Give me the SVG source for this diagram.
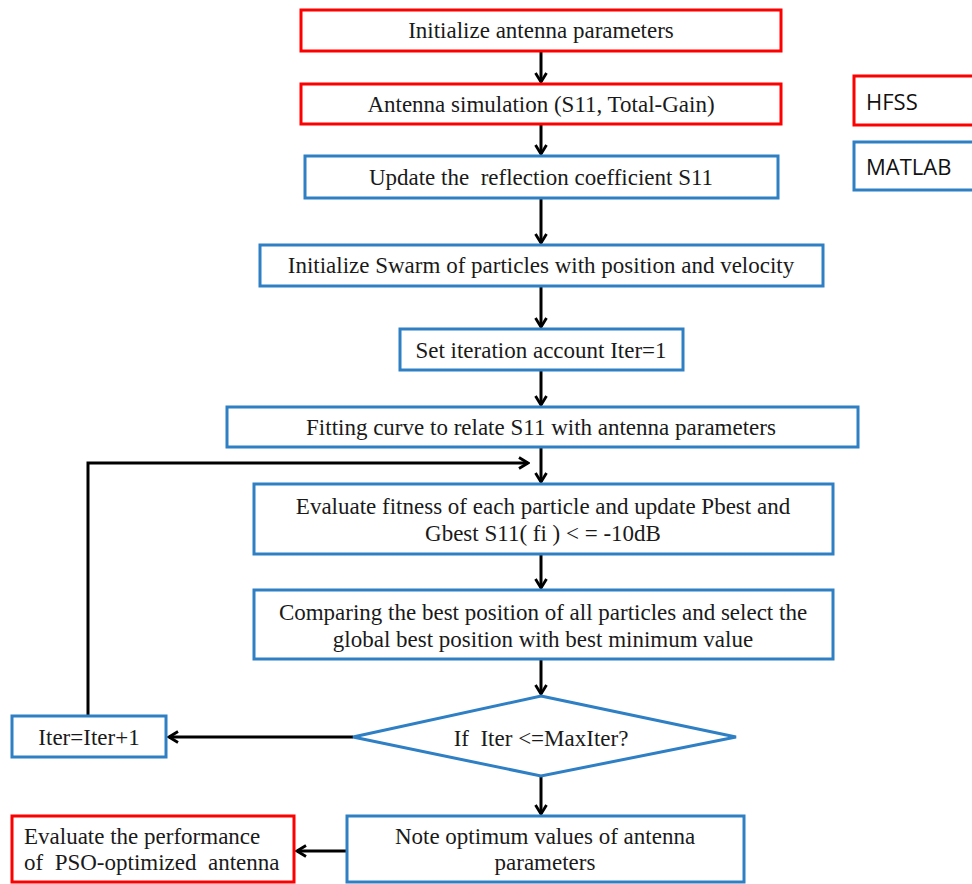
<svg xmlns="http://www.w3.org/2000/svg" width="972" height="884" viewBox="0 0 972 884">
<style>
.r{fill:#fff;stroke:#ff0000;stroke-width:3}
.b{fill:#fff;stroke:#2e7fc4;stroke-width:3}
.t{font-family:"Liberation Serif","DejaVu Serif",serif;font-size:23px;fill:#1a1a1a;text-anchor:middle;dominant-baseline:central}
.s{font-family:"Open Sans","Liberation Sans",sans-serif;font-size:22px;fill:#111;dominant-baseline:central}
.c{fill:none;stroke:#000;stroke-width:3}
</style>
<defs>
<marker id="a" viewBox="0 0 14 14" refX="12" refY="7" markerWidth="14" markerHeight="14" markerUnits="userSpaceOnUse" orient="auto">
<path d="M3,1.5 L12,7 L3,12.5" fill="none" stroke="#000" stroke-width="2.8"/>
</marker>
</defs>
<rect width="972" height="884" fill="#fff"/>
<g id="connectors">
<line class="c" x1="541" y1="51" x2="541" y2="82" marker-end="url(#a)"/>
<line class="c" x1="541" y1="124" x2="541" y2="154" marker-end="url(#a)"/>
<line class="c" x1="541" y1="198" x2="541" y2="243" marker-end="url(#a)"/>
<line class="c" x1="541" y1="286" x2="541" y2="327" marker-end="url(#a)"/>
<line class="c" x1="541" y1="370" x2="541" y2="405" marker-end="url(#a)"/>
<line class="c" x1="541" y1="447" x2="541" y2="482" marker-end="url(#a)"/>
<line class="c" x1="541" y1="554" x2="541" y2="588" marker-end="url(#a)"/>
<line class="c" x1="541" y1="659" x2="541" y2="694" marker-end="url(#a)"/>
<line class="c" x1="541" y1="776" x2="541" y2="814" marker-end="url(#a)"/>
<line class="c" x1="353" y1="737" x2="169" y2="737" marker-end="url(#a)"/>
<polyline class="c" points="88,716 88,463 528,463" marker-end="url(#a)"/>
<line class="c" x1="347" y1="851" x2="297" y2="851" marker-end="url(#a)"/>
</g>
<g id="n1"><rect class="r" x="301" y="10" width="480" height="41"/><text class="t" x="541" y="30">Initialize antenna parameters</text></g>
<g id="n2"><rect class="r" x="301" y="84" width="480" height="40"/><text class="t" x="541" y="104">Antenna simulation (S11, Total-Gain)</text></g>
<g id="legend-hfss"><rect class="r" x="854" y="76" width="130" height="49"/><text class="s" x="866" y="101">HFSS</text></g>
<g id="legend-matlab"><rect class="b" x="854" y="142" width="130" height="48"/><text class="s" x="866" y="166">MATLAB</text></g>
<g id="n3"><rect class="b" x="305" y="156" width="473" height="42"/><text class="t" x="541" y="177" xml:space="preserve">Update the  reflection coefficient S11</text></g>
<g id="n4"><rect class="b" x="260" y="245" width="563" height="41"/><text class="t" x="541" y="265">Initialize Swarm of particles with position and velocity</text></g>
<g id="n5"><rect class="b" x="400" y="329" width="283" height="41"/><text class="t" x="541" y="350">Set iteration account Iter=1</text></g>
<g id="n6"><rect class="b" x="227" y="407" width="631" height="40"/><text class="t" x="541" y="427">Fitting curve to relate S11 with antenna parameters</text></g>
<g id="n7"><rect class="b" x="254" y="484" width="579" height="70"/><text class="t" x="543" y="506">Evaluate fitness of each particle and update Pbest and</text><text class="t" x="543" y="533">Gbest S11( fi ) &lt; = -10dB</text></g>
<g id="n8"><rect class="b" x="254" y="590" width="579" height="69"/><text class="t" x="543" y="612">Comparing the best position of all particles and select the</text><text class="t" x="543" y="639">global best position with best minimum value</text></g>
<g id="n9"><polygon class="b" points="541,696 736,737 541,776 353,737"/><text class="t" x="541" y="738" xml:space="preserve">If  Iter &lt;=MaxIter?</text></g>
<g id="n10"><rect class="b" x="12" y="716" width="154" height="41"/><text class="t" x="89" y="737">Iter=Iter+1</text></g>
<g id="n11"><rect class="b" x="347" y="816" width="397" height="66"/><text class="t" x="545" y="836">Note optimum values of antenna</text><text class="t" x="545" y="862">parameters</text></g>
<g id="n12"><rect class="r" x="12" y="816" width="282" height="66"/><text class="t" x="24" y="836" style="text-anchor:start">Evaluate the performance</text><text class="t" x="24" y="862" style="text-anchor:start" xml:space="preserve">of  PSO-optimized  antenna</text></g>
</svg>
